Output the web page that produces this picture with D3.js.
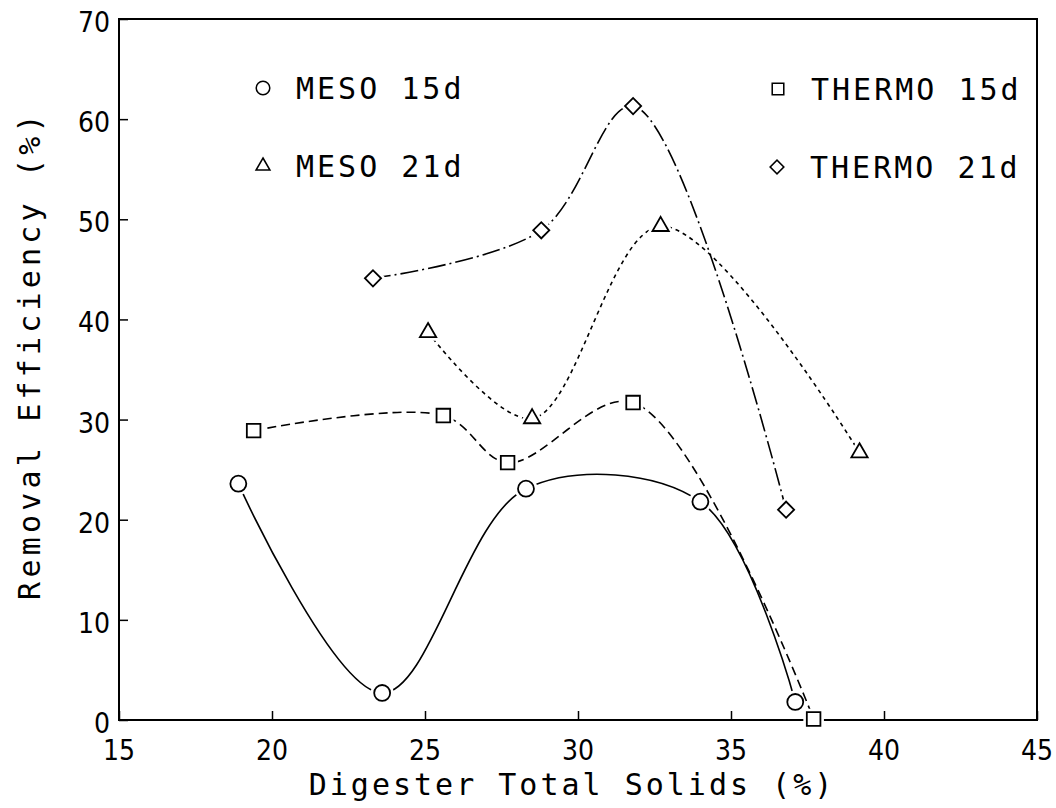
<!DOCTYPE html>
<html>
<head>
<meta charset="utf-8">
<script src="https://cdn.jsdelivr.net/npm/d3@7"></script>
<style>
  body { margin: 0; background: #fff; }
  .tick-label { font-family: "Liberation Sans Narrow", "DejaVu Sans Condensed", sans-serif; font-size: 28px; fill: #000; }
  .title, .legend-text { font-family: "DejaVu Sans Mono", "Liberation Mono", monospace; font-size: 30px; fill: #000; letter-spacing: 3px; }
  .ytitle { letter-spacing: 4.2px; }
</style>
</head>
<body>
<div id="vis"></div>
<script>
var w = 1056;
var h = 808;

// values
var xTicks = [15, 20, 25, 30, 35, 40, 45];
var yTicks = [0, 10, 20, 30, 40, 50, 60, 70];

var seriesNames = ['MESO 15d', 'MESO 21d', 'THERMO 15d', 'THERMO 21d'];

var meso15X = [18.9, 23.6, 28.3, 34.0, 37.1];
var meso15Y = [23.6, 2.7, 23.1, 21.8, 1.8];

var meso21X = [25.1, 28.5, 32.7, 39.2];
var meso21Y = [38.7, 30.1, 49.3, 26.7];

var thermo15X = [19.4, 25.6, 27.7, 31.8, 37.7];
var thermo15Y = [28.9, 30.4, 25.7, 31.7, 0.1];

var thermo21X = [23.3, 28.8, 31.8, 36.8];
var thermo21Y = [44.1, 48.9, 61.3, 21.0];

var svg = d3.select('#vis')
  .append('svg')
    .attr('width', w)
    .attr('height', h);

var x = d3.scaleLinear().domain([15, 45]).range([119, 1037]);
var y = d3.scaleLinear().domain([0, 70]).range([720, 19]);

// frame
svg.append('rect')
  .attr('x', x(15))
  .attr('y', y(70))
  .attr('width', x(45) - x(15))
  .attr('height', y(0) - y(70))
  .style('fill', 'none')
  .style('stroke', '#000')
  .style('stroke-width', 2);

// axes with inward ticks
var xAxis = svg.append('g')
  .attr('transform', 'translate(0,' + y(0) + ')')
  .call(d3.axisBottom(x).tickValues(xTicks).tickSize(-9).tickFormat(''));
var yAxis = svg.append('g')
  .attr('transform', 'translate(' + x(15) + ',0)')
  .call(d3.axisLeft(y).tickValues(yTicks).tickSize(-9).tickFormat(''));
[xAxis, yAxis].forEach(function(g) {
  g.select('.domain').remove();
  g.selectAll('line').style('stroke', '#000').style('stroke-width', 1.5);
});

svg.selectAll('.xlab')
  .data(xTicks)
  .enter()
  .append('text')
    .attr('class', 'tick-label')
    .attr('x', function(d) { return x(d); })
    .attr('y', y(0) + 40)
    .attr('text-anchor', 'middle')
    .text(function(d) { return d; });

svg.selectAll('.ylab')
  .data(yTicks)
  .enter()
  .append('text')
    .attr('class', 'tick-label')
    .attr('x', x(15) - 9)
    .attr('y', function(d) { return y(d) + 13; })
    .attr('text-anchor', 'end')
    .text(function(d) { return d; });

// axis titles
svg.append('text')
  .attr('class', 'title')
  .attr('x', 572)
  .attr('y', 795)
  .attr('text-anchor', 'middle')
  .text('Digester Total Solids (%)');

svg.append('text')
  .attr('class', 'title ytitle')
  .attr('transform', 'translate(40,355) rotate(-90)')
  .attr('text-anchor', 'middle')
  .text('Removal Efficiency (%)');

// marker shapes
var shapes = {
  'MESO 15d': d3.symbol().type(d3.symbolCircle).size(200),
  'MESO 21d': d3.symbol().type(d3.symbolTriangle).size(115),
  'THERMO 15d': d3.symbol().type(d3.symbolSquare).size(185),
  'THERMO 21d': d3.symbol().type(d3.symbolSquare).size(130)
};
var rot = { 'MESO 15d': 0, 'MESO 21d': 0, 'THERMO 15d': 0, 'THERMO 21d': 45 };
var dashes = {
  'MESO 15d': null,
  'MESO 21d': '4,4',
  'THERMO 15d': '9,5',
  'THERMO 21d': '18,4,2,4'
};

var seriesData = [
  [seriesNames[0], meso15X, meso15Y],
  [seriesNames[1], meso21X, meso21Y],
  [seriesNames[2], thermo15X, thermo15Y],
  [seriesNames[3], thermo21X, thermo21Y]
];

var line = d3.line()
  .x(function(d) { return x(d[0]); })
  .y(function(d) { return y(d[1]); })
  .curve(d3.curveCatmullRom.alpha(0.5));

seriesData.forEach(function(s) {
  var name = s[0];
  var pts = s[1].map(function(v, i) { return [v, s[2][i]]; });

  svg.append('path')
    .datum(pts)
    .attr('d', line)
    .style('fill', 'none')
    .style('stroke', '#000')
    .style('stroke-width', 1.6)
    .style('stroke-dasharray', dashes[name]);

  // white halo so lines stop short of the markers
  svg.selectAll(null)
    .data(pts)
    .enter()
    .append('path')
      .attr('d', shapes[name])
      .attr('transform', function(d) {
        return 'translate(' + x(d[0]) + ',' + y(d[1]) + ') rotate(' + rot[name] + ')';
      })
      .style('fill', '#fff')
      .style('stroke', '#fff')
      .style('stroke-width', 7);

  svg.selectAll(null)
    .data(pts)
    .enter()
    .append('path')
      .attr('d', shapes[name])
      .attr('transform', function(d) {
        return 'translate(' + x(d[0]) + ',' + y(d[1]) + ') rotate(' + rot[name] + ')';
      })
      .style('fill', '#fff')
      .style('stroke', '#000')
      .style('stroke-width', 1.8);
});

// legend
var legendPos = {
  'MESO 15d': [263, 88],
  'MESO 21d': [263, 166],
  'THERMO 15d': [778, 89],
  'THERMO 21d': [777, 167]
};

seriesNames.forEach(function(name) {
  var p = legendPos[name];
  svg.append('path')
    .attr('d', shapes[name])
    .attr('transform', 'translate(' + p[0] + ',' + p[1] + ') rotate(' + rot[name] + ') scale(0.85)')
    .style('fill', '#fff')
    .style('stroke', '#000')
    .style('stroke-width', 1.8);
  svg.append('text')
    .attr('class', 'legend-text')
    .attr('x', p[0] + 33)
    .attr('y', p[1] + 11)
    .text(name);
});
</script>
</body>
</html>
